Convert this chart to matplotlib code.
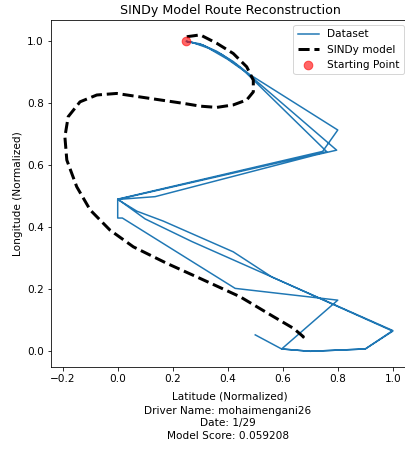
import numpy as np
import matplotlib
matplotlib.use('Agg')
import matplotlib.pyplot as plt

route_lat = [0.25, 0.30, 0.36, 0.42, 0.48, 0.80, 0.745, 0.0, 0.10, 0.27, 0.56, 1.0,
             0.90, 0.70, 0.596, 0.80, 0.427, 0.017, 0.0, 0.0, 0.136, 0.717, 0.796,
             0.47, 0.40, 0.33, 0.27, 0.25, 0.31, 0.38, 0.45, 0.76, 0.0, 0.07, 0.166,
             0.42, 0.56, 1.0, 0.90, 0.70, 0.596, 0.50]
route_lon = [1.0, 0.992, 0.968, 0.935, 0.893, 0.714, 0.645, 0.491, 0.427, 0.354, 0.24, 0.065,
             0.0075, 0.0, 0.0075, 0.165, 0.203, 0.43, 0.43, 0.49, 0.499, 0.633, 0.649,
             0.898, 0.942, 0.978, 0.997, 1.0, 0.988, 0.957, 0.913, 0.644, 0.49, 0.452, 0.42,
             0.321, 0.24, 0.067, 0.0075, 0.0, 0.0075, 0.053]

# SINDy simulated trajectory
sindy_lat = [0.251, 0.30, 0.36, 0.42, 0.469, 0.493, 0.493, 0.469, 0.42, 0.36, 0.30,
             0.239, 0.117, -0.004, -0.076, -0.137, -0.18, -0.192, -0.185, -0.149,
             -0.10, -0.028, 0.057, 0.178, 0.30, 0.445, 0.566, 0.639, 0.675, 0.66]
sindy_lon = [1.015, 1.021, 0.994, 0.961, 0.918, 0.875, 0.837, 0.811, 0.795, 0.787, 0.791,
             0.80, 0.816, 0.832, 0.827, 0.805, 0.757, 0.692, 0.617, 0.531,
             0.456, 0.391, 0.337, 0.284, 0.235, 0.176, 0.112, 0.074, 0.047, 0.037]

start = (0.25, 1.0)
driver = 'mohaimengani26'
date = '1/29'
score = 0.059208

plt.rcParams['font.size'] = 10.5
fig = plt.figure(figsize=(405 / 72, 456 / 72), dpi=72)
ax = fig.add_axes([51 / 405, 89.3 / 456, 358 / 405, 346.7 / 456])

ax.plot(route_lat, route_lon, color='#1f77b4', lw=1.5, label='Dataset')
ax.plot(sindy_lat, sindy_lon, 'k--', lw=3, label='SINDy model')
ax.scatter([start[0]], [start[1]], color='red', s=75, alpha=0.6, zorder=5, label='Starting Point')

ax.set_xlim(-0.2425, 1.059)
ax.set_ylim(-0.0497, 1.069)
ax.set_xlabel('Latitude (Normalized)', labelpad=8)
ax.set_ylabel('Longitude (Normalized)')
ax.set_title('SINDy Model Route Reconstruction', fontsize=12.6)
ax.legend(loc='upper right')

fig.text(228 / 405, 1 - 406 / 456,
         'Driver Name: %s\nDate: %s\nModel Score: %.6f' % (driver, date, score),
         ha='center', va='top', fontsize=10.5, linespacing=1.3)

fig.savefig('out.png', dpi=72)
